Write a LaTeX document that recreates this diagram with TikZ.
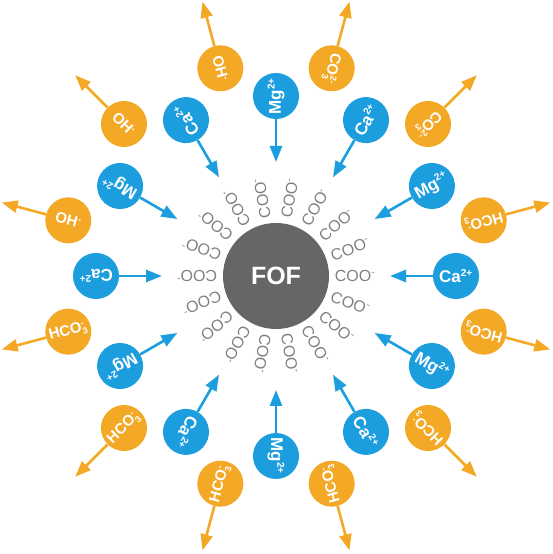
\documentclass[tikz,border=0pt]{standalone}
\usepackage{fontspec}
\setmainfont{Liberation Sans}
\usetikzlibrary{arrows.meta}
\definecolor{ionblue}{RGB}{27,157,222}
\definecolor{ionorange}{RGB}{243,168,38}
\definecolor{foffill}{RGB}{102,102,102}
\definecolor{coogrey}{RGB}{128,128,128}
\newcommand\bsmall{\fontsize{10}{10}\selectfont\bfseries}
\newcommand\osmall{\fontsize{9}{9}\selectfont\bfseries}
\newcommand\csmall{\fontsize{10}{10}\selectfont}
\newcommand\IonCa{Ca\ensuremath{^{\hbox{\bsmall 2+}}}}
\newcommand\IonMg{Mg\ensuremath{^{\hbox{\bsmall 2+}}}}
\newcommand\IonHCO{HCO\ensuremath{_{\hbox{\osmall 3}}^{\hbox{\osmall -}}}}
\newcommand\IonCO{CO\ensuremath{_{\hbox{\osmall 3}}^{\hbox{\osmall 2-}}}}
\newcommand\IonOH{OH\ensuremath{^{\hbox{\osmall -}}}}
\newcommand\GrpCOO{COO\ensuremath{^{\hbox{\csmall -}}}}
\begin{document}
\begin{tikzpicture}[x=1pt,y=1pt,
  fof/.style={circle, fill=foffill, minimum size=106pt, inner sep=0pt, text=white, font=\fontsize{25}{25}\selectfont\bfseries},
  coo/.style={text=coogrey, font=\fontsize{16}{16}\selectfont, inner sep=0pt},
  blueion/.style={circle, fill=ionblue, minimum size=46pt, inner sep=0pt, text=white, font=\fontsize{17}{17}\selectfont\bfseries},
  orangeion/.style={circle, fill=ionorange, minimum size=46pt, inner sep=0pt, text=white, font=\fontsize{15}{15}\selectfont\bfseries},
  inarrow/.style={draw=ionblue, line width=2.6pt, -{Triangle[length=16pt,width=12pt]}},
  outarrow/.style={draw=ionorange, line width=2.6pt, -{Triangle[length=16pt,width=12pt]}}]
\fill[white] (0,0) rectangle (553,554);
\begin{scope}[shift={(276,278)}]
\node[fof] (fof) at (0,0) {FOF};
\foreach \a in {0,20,...,340}{
  \node[coo, rotate=\a] (coo\a) at (\a:79) {\GrpCOO};
}
\foreach \a in {0,30,...,330}{
  \pgfmathtruncatemacro\r{mod(\a,60)}
  \ifnum\r=0 \def\lab{\IonCa}\else\def\lab{\IonMg}\fi
  \node[blueion, rotate=\a] (b\a) at (\a:180) {\lab};
  \coordinate (bt\a) at (\a:114);
  \draw[inarrow] (b\a) -- (bt\a);
}
\foreach \a/\lab in {15/\IonHCO,45/\IonCO,75/\IonCO,105/\IonOH,135/\IonOH,165/\IonOH,195/\IonHCO,225/\IonHCO,255/\IonHCO,285/\IonHCO,315/\IonHCO,345/\IonHCO}{
  \node[orangeion, rotate=\a+180] (o\a) at (\a:215) {\lab};
  \coordinate (ot\a) at (\a:284);
  \draw[outarrow] (o\a) -- (ot\a);
}
\end{scope}
\end{tikzpicture}
\end{document}
